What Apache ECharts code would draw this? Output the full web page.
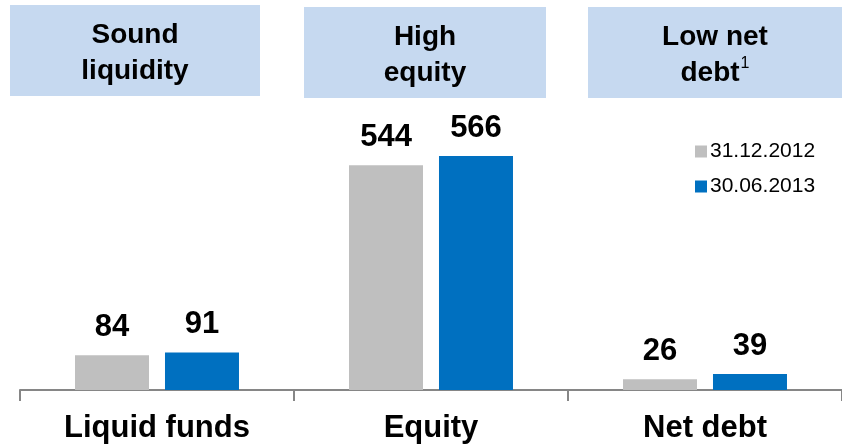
<!DOCTYPE html>
<html>
<head>
<meta charset="utf-8">
<script src="https://cdn.jsdelivr.net/npm/echarts@6/dist/echarts.min.js"></script>
<style>
  html, body { margin: 0; padding: 0; background: #fff; }
  #chart { width: 842px; height: 447px; }
</style>
</head>
<body>
<div id="chart"></div>
<script>
// Balance sheet figures
const categories = ['Liquid funds', 'Equity', 'Net debt'];
const seriesNames = ['31.12.2012', '30.06.2013'];
const values2012 = [84, 544, 26];
const values2013 = [91, 566, 39];
const headerTexts = ['Sound\nliquidity', 'High\nequity', 'Low net\ndebt{sup|1}'];

const FONT = '"Liberation Sans", Arial, Helvetica, sans-serif';
const GRAY = '#bfbfbf';
const BLUE = '#0070c0';
const BOX = '#c6d9f0';

// Header boxes above each group
const boxes = [
  { x: 10, y: 5, w: 250, h: 91 },
  { x: 304, y: 7, w: 242, h: 91 },
  { x: 588, y: 7, w: 254, h: 91 }
];
const graphics = [];
boxes.forEach((b, i) => {
  graphics.push({
    type: 'rect',
    shape: { x: b.x, y: b.y, width: b.w, height: b.h },
    style: { fill: BOX },
    z: 1
  });
  graphics.push({
    type: 'text',
    x: b.x + b.w / 2,
    y: b.y + b.h / 2 + 3,
    style: {
      text: headerTexts[i],
      fontFamily: FONT,
      fontSize: 28,
      fontWeight: 'bold',
      fill: '#000',
      lineHeight: 36,
      align: 'center',
      verticalAlign: 'middle',
      rich: {
        sup: { fontFamily: FONT, fontSize: 16, fontWeight: 'normal', fill: '#000', verticalAlign: 'top', lineHeight: 36, padding: [0, 0, 12, 1] }
      }
    },
    z: 2
  });
});

const labelStyle = {
  show: true,
  position: 'top',
  distance: 12,
  fontFamily: FONT,
  fontSize: 31,
  fontWeight: 'bold',
  color: '#000'
};

const chart = echarts.init(document.getElementById('chart'), null, { renderer: 'canvas' });
chart.setOption({
  animation: false,
  backgroundColor: '#fff',
  graphic: graphics,
  legend: {
    orient: 'vertical',
    left: 690,
    top: 136,
    itemWidth: 12,
    itemHeight: 12,
    itemGap: 14,
    icon: 'rect',
    textStyle: { fontFamily: FONT, fontSize: 21, color: '#000', padding: [0, 0, 0, -2] },
    data: seriesNames
  },
  grid: { left: 20, right: 0, top: 142, bottom: 57 },
  xAxis: {
    type: 'category',
    data: categories,
    axisLine: { lineStyle: { color: '#868686', width: 2 } },
    axisTick: { show: true, length: 11, lineStyle: { color: '#868686', width: 2 } },
    axisLabel: { fontFamily: FONT, fontSize: 31, fontWeight: 'bold', color: '#000', margin: 23 }
  },
  yAxis: {
    type: 'value',
    min: 0,
    max: 600,
    show: false,
    splitLine: { show: false }
  },
  series: [
    {
      name: seriesNames[0],
      type: 'bar',
      data: values2012,
      barWidth: 74,
      barGap: '21.6%',
      itemStyle: { color: GRAY },
      label: labelStyle
    },
    {
      name: seriesNames[1],
      type: 'bar',
      data: values2013,
      barWidth: 74,
      itemStyle: { color: BLUE },
      label: labelStyle
    }
  ]
});
</script>
</body>
</html>
